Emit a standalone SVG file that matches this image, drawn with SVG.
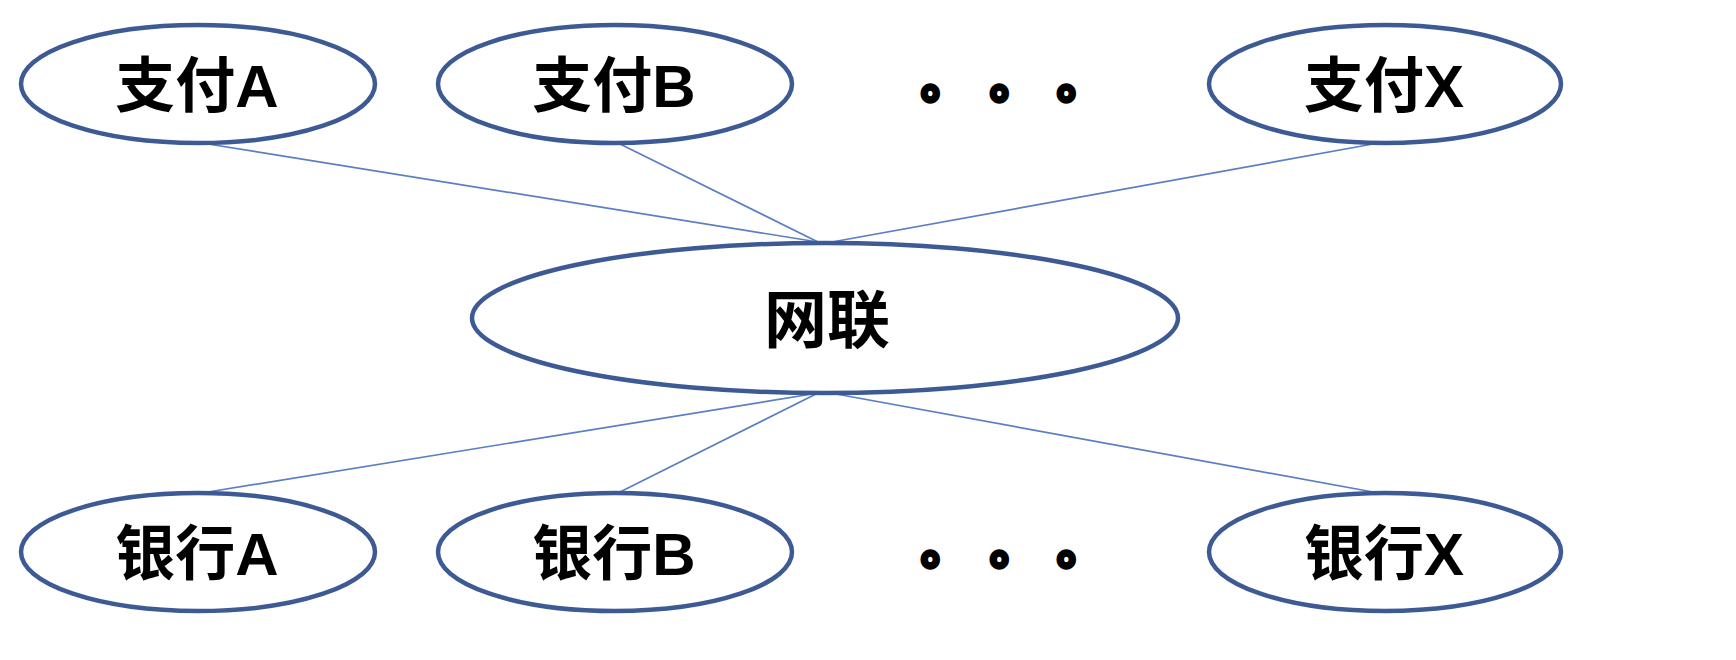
<svg xmlns="http://www.w3.org/2000/svg" width="1736" height="660" viewBox="0 0 1736 660">
<style>
.node{fill:#ffffff;stroke:#3d5a94;stroke-width:4.5}
.lbl{font-family:"Liberation Sans","Noto Sans CJK SC",sans-serif;font-weight:bold;font-size:60px;fill:#000;text-anchor:middle}
.big{font-size:63px}
.dot{font-family:"Noto Sans CJK SC",sans-serif;font-weight:900;font-size:48px;fill:#000;stroke:#000;stroke-width:3.5}
.conn line{stroke:#5a7fc2;stroke-width:1.7}
</style>
<rect width="1736" height="660" fill="#ffffff"/>
<g id="connectors" class="conn">
<line x1="208" y1="144" x2="818" y2="242"/>
<line x1="620" y1="144" x2="818" y2="242"/>
<line x1="1373" y1="144" x2="832" y2="242"/>
<line x1="208" y1="492" x2="812" y2="394"/>
<line x1="620" y1="492" x2="816" y2="394"/>
<line x1="1373" y1="492" x2="836" y2="394"/>
</g>
<g id="pay-a"><ellipse class="node" cx="198" cy="84" rx="177" ry="59"/><text class="lbl" x="197" y="107">支付A</text></g>
<g id="pay-b"><ellipse class="node" cx="615" cy="84" rx="177" ry="59"/><text class="lbl" x="614" y="107">支付B</text></g>
<g id="pay-dots"><text class="dot" x="921" y="97">。</text><text class="dot" x="990" y="97">。</text><text class="dot" x="1057" y="97">。</text></g>
<g id="pay-x"><ellipse class="node" cx="1385" cy="84" rx="176" ry="59"/><text class="lbl" x="1384" y="107">支付X</text></g>
<g id="wanglian"><ellipse class="node" cx="825" cy="318" rx="353" ry="75"/><text class="lbl big" x="827" y="342">网联</text></g>
<g id="bank-a"><ellipse class="node" cx="198" cy="552" rx="177" ry="59"/><text class="lbl" x="197" y="575">银行A</text></g>
<g id="bank-b"><ellipse class="node" cx="615" cy="552" rx="177" ry="59"/><text class="lbl" x="614" y="575">银行B</text></g>
<g id="bank-dots"><text class="dot" x="921" y="563">。</text><text class="dot" x="990" y="563">。</text><text class="dot" x="1057" y="563">。</text></g>
<g id="bank-x"><ellipse class="node" cx="1385" cy="552" rx="176" ry="59"/><text class="lbl" x="1384" y="575">银行X</text></g>
</svg>
